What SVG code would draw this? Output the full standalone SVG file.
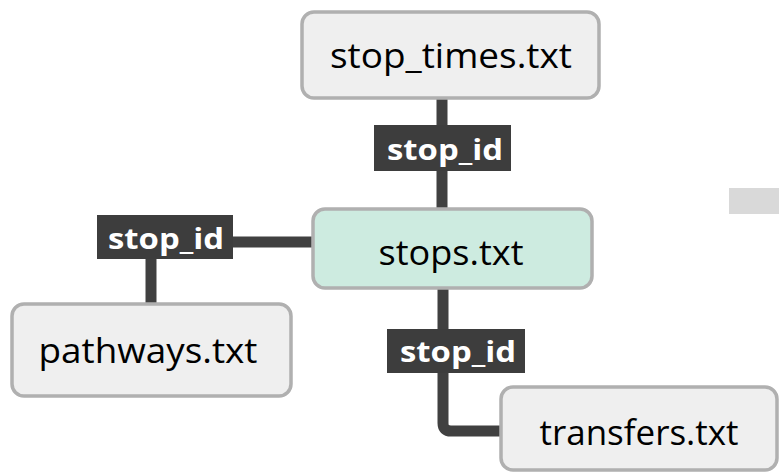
<svg xmlns="http://www.w3.org/2000/svg" width="779" height="475" viewBox="0 0 779 475">
<style>
.box{fill:#efefef;stroke:#b0b0b0;stroke-width:3.5}
.main{fill:#cdebe0}
.t{font-family:"Open Sans","Liberation Sans",sans-serif;font-size:35px;fill:#000;text-anchor:middle}
.lbl{fill:#3d3d3d}
.lt{font-family:"Open Sans","Liberation Sans",sans-serif;font-size:29px;font-weight:bold;fill:#fff;text-anchor:middle}
.c{fill:none;stroke:#404040;stroke-width:11}
</style>
<rect x="729" y="188" width="50" height="26" fill="#d9d9d9"/>
<g id="connectors">
<line class="c" x1="442" y1="98" x2="442" y2="210"/>
<line class="c" x1="233" y1="242" x2="314" y2="242"/>
<line class="c" x1="151" y1="259" x2="151" y2="303"/>
<path class="c" d="M443 288 V423 Q443 431 451 431 H502"/>
<rect class="lbl" x="374" y="125" width="137" height="46"/>
<text class="lt" x="445" y="160" textLength="116" lengthAdjust="spacingAndGlyphs">stop_id</text>
<rect class="lbl" x="97" y="215" width="136" height="44"/>
<text class="lt" x="166" y="249" textLength="116" lengthAdjust="spacingAndGlyphs">stop_id</text>
<rect class="lbl" x="387" y="329" width="138" height="44"/>
<text class="lt" x="458" y="362" textLength="116" lengthAdjust="spacingAndGlyphs">stop_id</text>
</g>
<g id="stop_times">
<rect class="box" x="302" y="12" width="297" height="86" rx="12"/>
<text class="t" x="451" y="68" textLength="242" lengthAdjust="spacingAndGlyphs">stop_times.txt</text>
</g>
<g id="stops">
<rect class="box main" x="313" y="209" width="279" height="79" rx="12"/>
<text class="t" x="451" y="265" textLength="145" lengthAdjust="spacingAndGlyphs">stops.txt</text>
</g>
<g id="pathways">
<rect class="box" x="12" y="304" width="279" height="92" rx="12"/>
<text class="t" x="148" y="363" textLength="219" lengthAdjust="spacingAndGlyphs">pathways.txt</text>
</g>
<g id="transfers">
<rect class="box" x="501" y="387" width="276" height="83" rx="12"/>
<text class="t" x="639" y="445" textLength="199" lengthAdjust="spacingAndGlyphs">transfers.txt</text>
</g>
</svg>
